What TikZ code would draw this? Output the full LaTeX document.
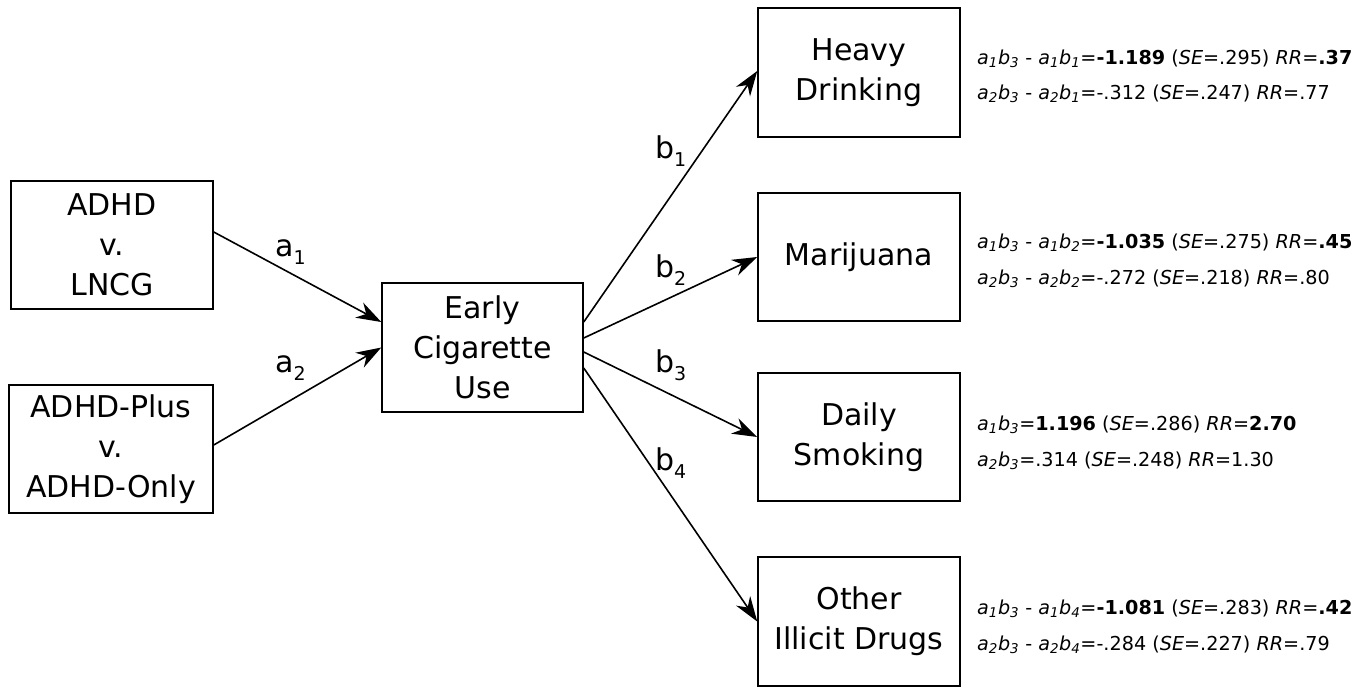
\documentclass[tikz,border=0pt]{standalone}
\usepackage{fontspec}
\setmainfont{DejaVu Sans}
\usetikzlibrary{arrows.meta}
\newcommand\lsub[1]{\raisebox{-0.28em}{\fontsize{19}{19}\selectfont #1}}
\newcommand\ab[2]{\textit{a\textsubscript{#1}b\textsubscript{#2}}}
\newcommand\sev{\textit{SE}}
\newcommand\rrv{\textit{RR}}
\begin{document}
\begin{tikzpicture}[x=1pt,y=-1pt,
  box/.style={draw, line width=1.5pt, minimum width=202pt, minimum height=128pt,
    align=center, font=\fontsize{30}{40}\selectfont, inner sep=0pt},
  arr/.style={-{Stealth[length=25pt,width=17pt,inset=8pt]}, line width=1.6pt},
  lab/.style={anchor=base west, font=\fontsize{30}{30}\selectfont, inner sep=0pt},
  stat/.style={anchor=base west, font=\fontsize{19.2}{22}\selectfont, inner sep=0pt}]
\useasboundingbox (0,0) rectangle (1369,688);
% boxes
\node[box] (adhd) at (112,245) {ADHD\\v.\\LNCG};
\node[box, minimum width=204pt] (plus) at (111,449) {ADHD-Plus\\v.\\ADHD-Only};
\node[box, minimum width=201pt, minimum height=129pt] (ecu) at (482.5,347.5) {Early\\Cigarette\\Use};
\node[box, minimum height=129pt] (heavy) at (859,72.5) {Heavy\\Drinking};
\node[box] (mari) at (859,257) {Marijuana};
\node[box] (daily) at (859,437) {Daily\\Smoking};
\node[box, minimum height=129pt] (other) at (859,621.5) {Other\\Illicit Drugs};
% arrows
\draw[arr] ([yshift=13pt]adhd.east) -- ([yshift=25.5pt]ecu.west);
\draw[arr] ([yshift=4pt]plus.east) -- (ecu.west);
\draw[arr] ([yshift=25.5pt]ecu.east) -- ([yshift=1.5pt]heavy.west);
\draw[arr] ([yshift=9.5pt]ecu.east) -- (mari.west);
\draw[arr] ([yshift=-4.5pt]ecu.east) -- (daily.west);
\draw[arr] ([yshift=-20.5pt]ecu.east) -- (other.west);
% path labels
\node[lab] (la1) at (275,256) {a\lsub{1}};
\node[lab] (la2) at (275,372) {a\lsub{2}};
\node[lab] (lb1) at (655,158) {b\lsub{1}};
\node[lab] (lb2) at (655,277) {b\lsub{2}};
\node[lab] (lb3) at (655,372) {b\lsub{3}};
\node[lab] (lb4) at (655,470) {b\lsub{4}};
% statistics
\node[stat] (s1a) at (977,64) {\ab13 - \ab11=\textbf{-1.189} (\sev=.295) \rrv=\textbf{.37}};
\node[stat] (s1b) at (977,99) {\ab23 - \ab21=-.312 (\sev=.247) \rrv=.77};
\node[stat] (s2a) at (977,248) {\ab13 - \ab12=\textbf{-1.035} (\sev=.275) \rrv=\textbf{.45}};
\node[stat] (s2b) at (977,284) {\ab23 - \ab22=-.272 (\sev=.218) \rrv=.80};
\node[stat] (s3a) at (977,430) {\ab13=\textbf{1.196} (\sev=.286) \rrv=\textbf{2.70}};
\node[stat] (s3b) at (977,466) {\ab23=.314 (\sev=.248) \rrv=1.30};
\node[stat] (s4a) at (977,614) {\ab13 - \ab14=\textbf{-1.081} (\sev=.283) \rrv=\textbf{.42}};
\node[stat] (s4b) at (977,650) {\ab23 - \ab24=-.284 (\sev=.227) \rrv=.79};
\end{tikzpicture}
\end{document}
